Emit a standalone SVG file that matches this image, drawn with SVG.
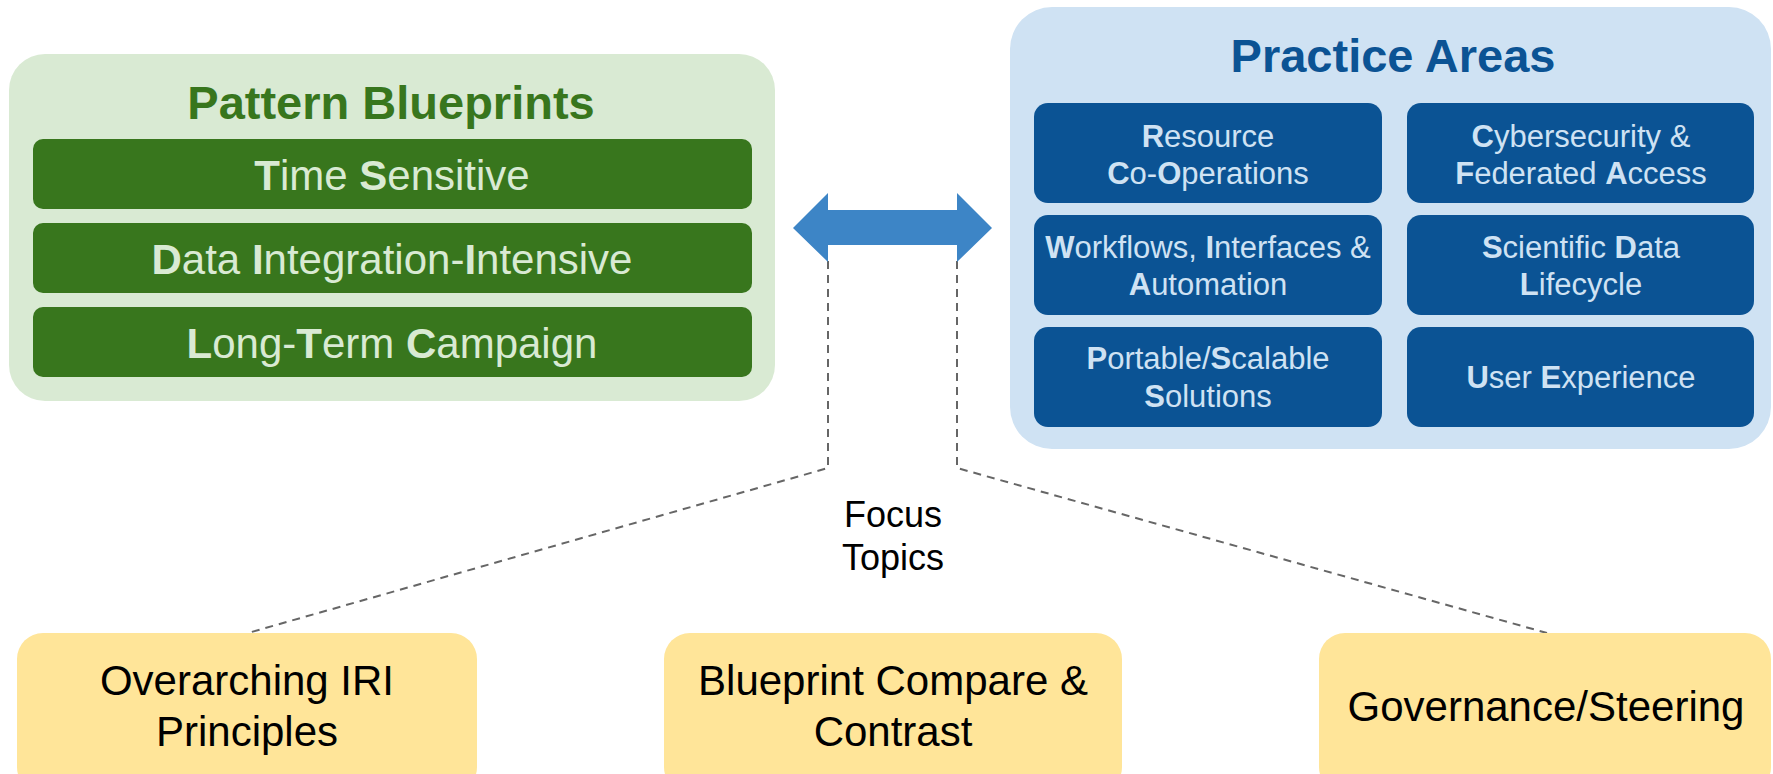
<svg xmlns="http://www.w3.org/2000/svg" width="1773" height="774" viewBox="0 0 1773 774">
<style>
text{font-family:"Liberation Sans",Arial,sans-serif;text-anchor:middle}
.b{font-weight:bold}
.title{font-weight:bold;font-size:47px}
.bar{fill:#38761d}
.bartxt{fill:#d9ead3;font-size:42px}
.cell{fill:#0b5394}
.celltxt{fill:#cfe2f3;font-size:31px}
.topic{fill:#ffe599}
.topictxt{fill:#000;font-size:42px}
.dash{fill:none;stroke:#666;stroke-width:2;stroke-dasharray:8 6}
</style>
<rect width="1773" height="774" fill="#fff"/>
<g id="connectors">
  <polyline class="dash" points="828,261 828,468 248,633"/>
  <polyline class="dash" points="957,261 957,468 1547,633"/>
  <polygon id="double-arrow" fill="#3d85c6" points="793,228 828,193 828,210 957,210 957,193 992,228 957,262 957,245 828,245 828,262"/>
  <text x="893" y="527" style="font-size:36px;fill:#000">Focus</text>
  <text x="893" y="570" style="font-size:36px;fill:#000">Topics</text>
</g>
<g id="pattern-blueprints">
  <rect x="9" y="54" width="766" height="347" rx="36" fill="#d9ead3"/>
  <text x="391" y="119" class="title" fill="#38761d">Pattern Blueprints</text>
  <g id="pb-time-sensitive">
    <rect class="bar" x="33" y="139" width="719" height="70" rx="10"/>
    <text x="392" y="190" class="bartxt"><tspan class="b">T</tspan>ime <tspan class="b">S</tspan>ensitive</text>
  </g>
  <g id="pb-data-integration">
    <rect class="bar" x="33" y="223" width="719" height="70" rx="10"/>
    <text x="392" y="274" class="bartxt"><tspan class="b">D</tspan>ata <tspan class="b">I</tspan>ntegration-<tspan class="b">I</tspan>ntensive</text>
  </g>
  <g id="pb-long-term">
    <rect class="bar" x="33" y="307" width="719" height="70" rx="10"/>
    <text x="392" y="358" class="bartxt"><tspan class="b">L</tspan>ong-<tspan class="b">T</tspan>erm <tspan class="b">C</tspan>ampaign</text>
  </g>
</g>
<g id="practice-areas">
  <rect x="1010" y="7" width="761" height="442" rx="42" fill="#cfe2f3"/>
  <text x="1393" y="72" class="title" fill="#0b5394">Practice Areas</text>
  <g id="pa-resource">
    <rect class="cell" x="1034" y="103" width="348" height="100" rx="14"/>
    <text x="1208" y="147" class="celltxt"><tspan class="b">R</tspan>esource</text>
    <text x="1208" y="184" class="celltxt"><tspan class="b">C</tspan>o-<tspan class="b">O</tspan>perations</text>
  </g>
  <g id="pa-cyber">
    <rect class="cell" x="1407" y="103" width="347" height="100" rx="14"/>
    <text x="1581" y="147" class="celltxt"><tspan class="b">C</tspan>ybersecurity &amp;</text>
    <text x="1581" y="184" class="celltxt"><tspan class="b">F</tspan>ederated <tspan class="b">A</tspan>ccess</text>
  </g>
  <g id="pa-workflows">
    <rect class="cell" x="1034" y="215" width="348" height="100" rx="14"/>
    <text x="1208" y="258" class="celltxt"><tspan class="b">W</tspan>orkflows, <tspan class="b">I</tspan>nterfaces &amp;</text>
    <text x="1208" y="295" class="celltxt"><tspan class="b">A</tspan>utomation</text>
  </g>
  <g id="pa-scidata">
    <rect class="cell" x="1407" y="215" width="347" height="100" rx="14"/>
    <text x="1581" y="258" class="celltxt"><tspan class="b">S</tspan>cientific <tspan class="b">D</tspan>ata</text>
    <text x="1581" y="295" class="celltxt"><tspan class="b">L</tspan>ifecycle</text>
  </g>
  <g id="pa-portable">
    <rect class="cell" x="1034" y="327" width="348" height="100" rx="14"/>
    <text x="1208" y="369" class="celltxt"><tspan class="b">P</tspan>ortable/<tspan class="b">S</tspan>calable</text>
    <text x="1208" y="407" class="celltxt"><tspan class="b">S</tspan>olutions</text>
  </g>
  <g id="pa-ux">
    <rect class="cell" x="1407" y="327" width="347" height="100" rx="14"/>
    <text x="1581" y="388" class="celltxt"><tspan class="b">U</tspan>ser <tspan class="b">E</tspan>xperience</text>
  </g>
</g>
<g id="topic-principles">
  <rect class="topic" x="17" y="633" width="460" height="160" rx="26"/>
  <text x="247" y="695" class="topictxt">Overarching IRI</text>
  <text x="247" y="746" class="topictxt">Principles</text>
</g>
<g id="topic-compare">
  <rect class="topic" x="664" y="633" width="458" height="160" rx="26"/>
  <text x="893" y="695" class="topictxt">Blueprint Compare &amp;</text>
  <text x="893" y="746" class="topictxt">Contrast</text>
</g>
<g id="topic-governance">
  <rect class="topic" x="1319" y="633" width="452" height="160" rx="26"/>
  <text x="1546" y="721" class="topictxt">Governance/Steering</text>
</g>
</svg>
